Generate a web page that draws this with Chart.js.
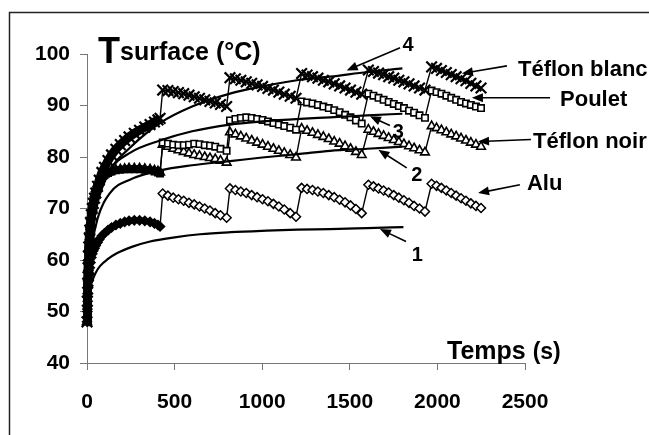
<!DOCTYPE html>
<html>
<head>
<meta charset="utf-8">
<script src="https://cdn.jsdelivr.net/npm/chart.js@4.4.0/dist/chart.umd.min.js"></script>
<style>
  html, body { margin: 0; padding: 0; background: #fff; }
  #wrap { position: relative; width: 649px; height: 435px; overflow: hidden; }
</style>
</head>
<body>
<div id="wrap"><canvas id="chart" width="649" height="435"></canvas></div>
<script>
// Temps de mesure (s) - premier chauffage dense, puis 5 cycles
const temps = [
  0, 2, 4, 6, 8, 10, 13, 16, 20, 25, 30, 36, 43, 50, 60, 70, 85, 100, 120, 140, 165, 190, 215, 240, 270, 300, 330, 360, 385, 405, 417,
  432, 462, 492, 522, 552, 582, 612, 642, 672, 702, 732, 762, 797,
  816, 847, 878, 909, 940, 971, 1002, 1033, 1064, 1095, 1126, 1160, 1193,
  1225, 1256, 1287, 1318, 1349, 1380, 1411, 1442, 1473, 1504, 1535, 1568,
  1606, 1635, 1664, 1693, 1722, 1751, 1780, 1809, 1838, 1867, 1898, 1929,
  1967, 1995, 2023, 2051, 2079, 2107, 2135, 2163, 2191, 2220, 2249
];

const alu = [
  48, 50, 52, 53.5, 55, 56, 57.3, 58.5, 59.5, 60.5, 61.2, 61.8, 62.3, 62.8, 63.4, 64, 64.7, 65.2, 65.8, 66.3, 66.8, 67.1, 67.4, 67.6, 67.7, 67.7, 67.6, 67.4, 67.1, 66.8, 66.5,
  72.9, 72.5, 72.1, 71.8, 71.5, 71.1, 70.8, 70.4, 70.0, 69.6, 69.1, 68.7, 68.2,
  73.9, 73.6, 73.3, 73.0, 72.6, 72.2, 71.8, 71.4, 70.9, 70.4, 69.8, 69.1, 68.4,
  74.0, 73.8, 73.6, 73.3, 73.0, 72.6, 72.2, 71.7, 71.2, 70.6, 69.9, 69.1,
  74.6, 74.3, 73.9, 73.5, 73.1, 72.6, 72.1, 71.6, 71.1, 70.5, 70.0, 69.4,
  74.8, 74.4, 74.0, 73.5, 73.0, 72.5, 72.0, 71.5, 71.0, 70.5, 70.1
];

const teflonBlanc = [
  48, 52, 55.5, 58.5, 60.8, 62.5, 64.3, 65.8, 67.3, 68.8, 70, 71, 72, 73, 74.3, 75.5, 77, 78, 79.3, 80.4, 81.5, 82.4, 83.2, 83.9, 84.6, 85.2, 85.8, 86.3, 86.8, 87.2, 87.5,
  93.0, 92.9, 92.7, 92.5, 92.3, 92.0, 91.7, 91.4, 91.1, 90.8, 90.5, 90.2, 89.8,
  95.4, 95.2, 94.9, 94.6, 94.3, 94.0, 93.7, 93.3, 93.0, 92.6, 92.2, 91.8, 91.4,
  96.2, 95.9, 95.6, 95.3, 94.9, 94.6, 94.2, 93.8, 93.4, 93.0, 92.6, 92.2,
  96.9, 96.6, 96.3, 96.0, 95.6, 95.3, 94.9, 94.6, 94.2, 93.8, 93.4, 93.0,
  97.5, 97.2, 96.8, 96.4, 96.0, 95.6, 95.2, 94.8, 94.3, 93.8, 93.4
];

const teflonNoir = [
  48, 51, 54, 56.5, 58.5, 60.5, 62.5, 64.5, 66.5, 68.5, 70, 71.5, 72.8, 73.8, 74.8, 75.5, 76.2, 76.6, 77, 77.3, 77.5, 77.6, 77.7, 77.8, 77.8, 77.8, 77.7, 77.6, 77.4, 77.2, 77.0,
  82.4, 82.0, 81.6, 81.3, 81.0, 80.7, 80.4, 80.2, 80.0, 79.8, 79.6, 79.3, 78.9,
  84.8, 84.4, 84.0, 83.6, 83.2, 82.8, 82.4, 82.0, 81.6, 81.2, 80.8, 80.4, 79.9,
  85.5, 85.1, 84.7, 84.3, 83.9, 83.5, 83.0, 82.6, 82.1, 81.6, 81.0, 80.4,
  85.3, 84.9, 84.5, 84.1, 83.7, 83.3, 82.9, 82.5, 82.1, 81.7, 81.3, 80.9,
  86.0, 85.6, 85.2, 84.8, 84.4, 84.0, 83.6, 83.2, 82.8, 82.4, 82.0
];

const poulet = [
  49.5, 52, 54.5, 56.8, 58.8, 60.5, 62.2, 64, 66, 68, 69.5, 71, 72.3, 73.3, 74.4, 75.2, 76, 76.5, 76.9, 77.2, 77.4, 77.5, 77.6, 77.6, 77.6, 77.6, 77.5, 77.4, 77.2, 77.0, 76.8,
  82.8, 82.6, 82.4, 82.3, 82.3, 82.4, 82.6, 82.5, 82.3, 82.2, 82.0, 81.6, 81.2,
  87.1, 87.4, 87.6, 87.7, 87.6, 87.4, 87.2, 86.9, 86.6, 86.3, 86.0, 85.7, 85.3,
  90.8, 90.6, 90.4, 90.1, 89.8, 89.5, 89.1, 88.7, 88.2, 87.7, 87.1, 86.5,
  92.3, 91.9, 91.5, 91.1, 90.7, 90.3, 89.9, 89.5, 89.0, 88.6, 88.1, 87.6,
  92.9, 92.6, 92.3, 91.9, 91.5, 91.1, 90.7, 90.4, 90.1, 89.8, 89.5
];

// Courbes modèles 1 à 4
const tempsModele1 = [15, 46, 74, 120, 170, 260, 360, 500, 645, 820, 1026, 1200, 1387, 1600, 1806];
const modele1 = [54.5, 57.3, 58.8, 60.2, 61.3, 62.6, 63.6, 64.4, 65.0, 65.4, 65.7, 65.9, 66.0, 66.2, 66.4];

const tempsModele = [10, 30, 60, 131, 245, 417, 600, 816, 1000, 1216, 1387, 1600, 1800];
const modele2 = [56, 63, 68, 73, 75.6, 77.4, 78.4, 79.2, 79.9, 80.6, 81.2, 81.6, 82.0];
const modele3 = [57, 65, 71, 77.3, 80.8, 83.2, 85.0, 86.3, 86.9, 87.4, 87.7, 88.1, 88.4];
const modele4 = [58, 66, 72, 77.5, 81.8, 86.6, 89.8, 92.3, 93.7, 95.0, 95.6, 96.5, 97.2];

const ticksX = [0, 500, 1000, 1500, 2000, 2500];
const ticksY = [40, 50, 60, 70, 80, 90, 100];

// Étiquettes et flèches (coordonnées en unités des axes)
const annotations = [
  { texte: '4', x: 1832, y: 100.5, align: 'center', taille: 20, de: [1787, 101.2], vers: [1482, 96.8] },
  { texte: 'Téflon blanc', x: 2460, y: 95.65, align: 'left', taille: 22, de: [2397, 97.7], vers: [2140, 96.2] },
  { texte: 'Poulet', x: 2700, y: 89.96, align: 'left', taille: 22, de: [2643, 91.5], vers: [2197, 91.5] },
  { texte: 'Téflon noir', x: 2546, y: 81.75, align: 'left', taille: 22, de: [2534, 83.4], vers: [2232, 83.0] },
  { texte: 'Alu', x: 2511, y: 73.65, align: 'left', taille: 22, de: [2471, 74.6], vers: [2232, 73.0] },
  { texte: '3', x: 1777, y: 83.7, align: 'center', taille: 20, de: [1729, 86.1], vers: [1615, 87.9] },
  { texte: '2', x: 1882, y: 75.3, align: 'center', taille: 20, de: [1825, 77.9], vers: [1663, 81.4] },
  { texte: '1', x: 1885, y: 59.9, align: 'center', taille: 20, de: [1821, 63.6], vers: [1672, 66.0] }
];

const POLICE = '"Liberation Sans", Arial, sans-serif';
const FIN_CHAUFFE = 420;

function serie(label, valeurs, style, rayon, bordure, bande) {
  return {
    label: label,
    data: temps.map((t, i) => ({ x: t, y: valeurs[i] })),
    borderColor: '#000',
    borderWidth: 1.4,
    pointStyle: style,
    pointRadius: rayon,
    pointBorderColor: '#000',
    pointBorderWidth: bordure,
    pointBackgroundColor: ctx => (ctx.raw && ctx.raw.x <= FIN_CHAUFFE ? '#000' : '#fff'),
    segment: {
      borderWidth: ctx => (ctx.p1.parsed.x <= FIN_CHAUFFE ? bande : 1.4)
    },
    tension: 0,
    clip: false,
    order: 2
  };
}

function modele(label, t, valeurs) {
  return {
    label: label,
    data: t.map((v, i) => ({ x: v, y: valeurs[i] })),
    borderColor: '#000',
    borderWidth: 2.2,
    pointRadius: 0,
    cubicInterpolationMode: 'monotone',
    clip: false,
    order: 1
  };
}

function fleche(ctx, x0, y0, x1, y1) {
  const ang = Math.atan2(y1 - y0, x1 - x0);
  const L = 11, W = 4.5;
  ctx.beginPath();
  ctx.moveTo(x0, y0);
  ctx.lineTo(x1 - L * 0.8 * Math.cos(ang), y1 - L * 0.8 * Math.sin(ang));
  ctx.stroke();
  ctx.beginPath();
  ctx.moveTo(x1, y1);
  ctx.lineTo(x1 - L * Math.cos(ang) + W * Math.sin(ang), y1 - L * Math.sin(ang) - W * Math.cos(ang));
  ctx.lineTo(x1 - L * Math.cos(ang) - W * Math.sin(ang), y1 - L * Math.sin(ang) + W * Math.cos(ang));
  ctx.closePath();
  ctx.fill();
}

const habillage = {
  id: 'habillage',
  beforeDraw(chart) {
    const ctx = chart.ctx;
    ctx.save();
    ctx.strokeStyle = '#222';
    ctx.lineWidth = 1.5;
    ctx.beginPath();
    ctx.moveTo(9.5, 435);
    ctx.lineTo(9.5, 12.5);
    ctx.lineTo(649, 12.5);
    ctx.stroke();
    ctx.restore();
  },
  afterDatasetsDraw(chart) {
    const ctx = chart.ctx;
    const sx = chart.scales.x, sy = chart.scales.y;
    const area = chart.chartArea;
    ctx.save();
    ctx.fillStyle = '#000';
    ctx.strokeStyle = '#000';
    ctx.lineWidth = 1.6;
    annotations.forEach(a => {
      fleche(ctx, sx.getPixelForValue(a.de[0]), sy.getPixelForValue(a.de[1]),
        sx.getPixelForValue(a.vers[0]), sy.getPixelForValue(a.vers[1]));
      ctx.font = 'bold ' + a.taille + 'px ' + POLICE;
      ctx.textAlign = a.align;
      ctx.textBaseline = 'alphabetic';
      ctx.fillText(a.texte, sx.getPixelForValue(a.x), sy.getPixelForValue(a.y));
    });

    // titre de l'axe vertical
    ctx.textAlign = 'left';
    ctx.textBaseline = 'alphabetic';
    ctx.font = 'bold 36px ' + POLICE;
    ctx.fillText('T', area.left + 11, 62.5);
    ctx.font = 'bold 25px ' + POLICE;
    ctx.fillText('surface (°C)', area.left + 33, 59.5);

    // titre de l'axe horizontal
    ctx.font = 'bold 25px ' + POLICE;
    ctx.fillText('Temps', 447, 359);
    const w = ctx.measureText('Temps ').width;
    ctx.font = 'bold 23px ' + POLICE;
    ctx.fillText('(s)', 447 + w, 359);
    ctx.restore();
  }
};

const policeTicks = { family: POLICE, size: 21, weight: 'bold' };

new Chart(document.getElementById('chart'), {
  type: 'line',
  data: {
    datasets: [
      modele('Modèle 4', tempsModele, modele4),
      modele('Modèle 3', tempsModele, modele3),
      modele('Modèle 2', tempsModele, modele2),
      modele('Modèle 1', tempsModele1, modele1),
      serie('Téflon blanc', teflonBlanc, 'crossRot', 7.5, 2.2, 9),
      serie('Poulet', poulet, 'rect', 4.5, 1.6, 6),
      serie('Téflon noir', teflonNoir, 'triangle', 5, 1.6, 6),
      serie('Alu', alu, 'rectRot', 4.5, 1.5, 6)
    ]
  },
  options: {
    responsive: false,
    animation: false,
    events: [],
    layout: { padding: { top: 54, right: 124, left: 0, bottom: 0 } },
    plugins: { legend: { display: false }, tooltip: { enabled: false } },
    scales: {
      x: {
        type: 'linear',
        min: 0,
        max: 2500,
        afterBuildTicks: s => { s.ticks = ticksX.map(v => ({ value: v })); },
        ticks: { color: '#000', font: policeTicks, padding: 20, maxRotation: 0, callback: v => String(v) },
        grid: { drawOnChartArea: false, drawTicks: true, tickLength: 7, color: '#777', lineWidth: 1 },
        border: { display: true, color: '#777', width: 1 },
        afterFit: s => { s.height = 72; }
      },
      y: {
        min: 40,
        max: 100,
        afterBuildTicks: s => { s.ticks = ticksY.map(v => ({ value: v })); },
        ticks: { color: '#000', font: policeTicks, padding: 10, callback: v => String(v) },
        grid: { drawOnChartArea: false, drawTicks: true, tickLength: 7, color: '#777', lineWidth: 1 },
        border: { display: true, color: '#777', width: 1 },
        afterFit: s => { s.width = 87; }
      }
    }
  },
  plugins: [habillage]
});
</script>
</body>
</html>
